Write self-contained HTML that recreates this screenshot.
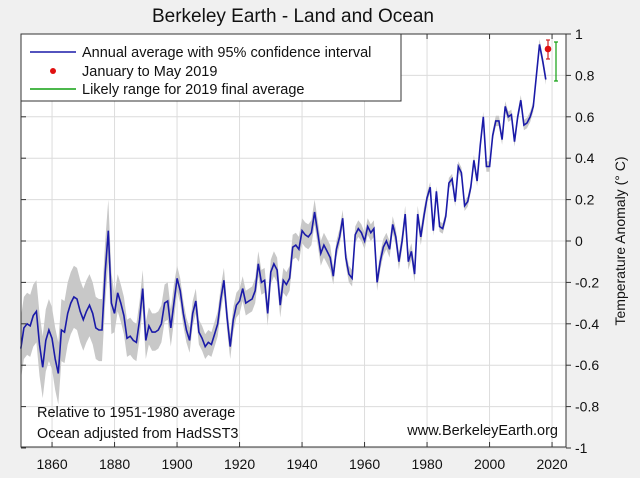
<!DOCTYPE html>
<html><head><meta charset="utf-8"><style>
body{margin:0;background:#f0f0f0;}
svg{display:block;font-family:"Liberation Sans",sans-serif;}
</style></head><body>
<svg id="s" width="640" height="478" xmlns="http://www.w3.org/2000/svg">
<rect width="640" height="478" fill="#f0f0f0"/>
<rect x="21" y="34" width="545" height="413" fill="#fff"/>
<g id="grid" stroke="#dcdcdc" stroke-width="1"></g>
<path id="band" fill="#c8c8c8" stroke="none"/>
<path id="line" fill="none" stroke="#1a1aa8" stroke-width="1.6"/>
<rect x="21" y="34" width="545" height="413" fill="none" stroke="#333" stroke-width="1"/>
<g id="ticks" stroke="#333"></g>
<g id="labels" font-size="14" fill="#111"></g>
<text x="293" y="22" font-size="19" text-anchor="middle" fill="#111">Berkeley Earth - Land and Ocean</text>
<text transform="translate(625,241) rotate(-90)" font-size="14" text-anchor="middle" fill="#111">Temperature Anomaly (° C)</text>
<rect x="21" y="34" width="380" height="67" fill="#fff" stroke="#333"/>
<line x1="30" y1="52" x2="76" y2="52" stroke="#1a1aa8" stroke-width="1.5"/>
<circle cx="53" cy="71" r="3" fill="#e01010"/>
<line x1="30" y1="89" x2="76" y2="89" stroke="#10a010" stroke-width="1.5"/>
<text x="82" y="57" font-size="14.5" fill="#111">Annual average with 95% confidence interval</text>
<text x="82" y="76" font-size="14.5" fill="#111">January to May 2019</text>
<text x="82" y="94" font-size="14.5" fill="#111">Likely range for 2019 final average</text>
<text x="37" y="417" font-size="14.5" fill="#111">Relative to 1951-1980 average</text>
<text x="37" y="438" font-size="14.5" fill="#111">Ocean adjusted from HadSST3</text>
<text x="558" y="435" font-size="14.5" fill="#111" text-anchor="end">www.BerkeleyEarth.org</text>
<g stroke="#d02020" stroke-width="1.2"><line x1="548" y1="40" x2="548" y2="59"/><line x1="546" y1="40" x2="550" y2="40"/><line x1="546" y1="59" x2="550" y2="59"/></g>
<circle cx="548" cy="49" r="3.3" fill="#e01010"/>
<g stroke="#10a010" stroke-width="1.2"><line x1="556" y1="42" x2="556" y2="81"/><line x1="554" y1="42" x2="558" y2="42"/><line x1="554" y1="81" x2="558" y2="81"/></g>
</svg>
<script>
const d=[-0.52,-0.42,-0.40,-0.41,-0.36,-0.34,-0.50,-0.61,-0.48,-0.43,-0.47,-0.57,-0.64,-0.43,-0.44,-0.35,-0.30,-0.27,-0.28,-0.34,-0.38,-0.34,-0.31,-0.35,-0.42,-0.43,-0.43,-0.15,0.05,-0.30,-0.35,-0.25,-0.30,-0.36,-0.47,-0.46,-0.48,-0.49,-0.38,-0.23,-0.48,-0.41,-0.44,-0.44,-0.43,-0.40,-0.30,-0.29,-0.42,-0.30,-0.18,-0.24,-0.35,-0.43,-0.48,-0.35,-0.29,-0.44,-0.47,-0.51,-0.49,-0.50,-0.45,-0.40,-0.28,-0.19,-0.37,-0.51,-0.38,-0.31,-0.29,-0.23,-0.30,-0.29,-0.28,-0.24,-0.11,-0.20,-0.19,-0.35,-0.15,-0.11,-0.14,-0.31,-0.19,-0.21,-0.18,-0.03,-0.02,-0.04,0.05,0.03,0.02,0.04,0.14,0.04,-0.06,-0.02,-0.05,-0.08,-0.17,-0.04,0.02,0.11,-0.08,-0.16,-0.18,0.03,0.06,0.04,0.0,0.07,0.04,0.06,-0.20,-0.10,-0.03,0.0,-0.04,0.08,0.02,-0.10,0.0,0.13,-0.10,-0.05,-0.16,0.13,0.02,0.12,0.21,0.26,0.05,0.24,0.07,0.06,0.12,0.28,0.30,0.19,0.36,0.33,0.17,0.19,0.26,0.39,0.29,0.46,0.60,0.36,0.36,0.51,0.58,0.58,0.49,0.65,0.60,0.61,0.48,0.60,0.68,0.56,0.57,0.60,0.65,0.80,0.95,0.87,0.78];
const X=y=>20.8+3.125*(y-1850),Y=v=>241-207*v;
function u(y){return y<1880?0.15:y<1900?0.09:y<1950?0.06:y<1980?0.04:0.025;}
let up=[],lo=[],ln=[];
d.forEach((v,i)=>{const yr=1850+i;up.push(X(yr).toFixed(1)+","+Y(v+u(yr)).toFixed(1));lo.push(X(yr).toFixed(1)+","+Y(v-u(yr)).toFixed(1));ln.push(X(yr).toFixed(1)+","+Y(v).toFixed(1));});
document.getElementById('band').setAttribute('d',"M"+up.join("L")+"L"+lo.reverse().join("L")+"Z");
document.getElementById('line').setAttribute('d',"M"+ln.join("L"));
const ns="http://www.w3.org/2000/svg";
function el(p,t,a,txt){const e=document.createElementNS(ns,t);for(const k in a)e.setAttribute(k,a[k]);if(txt!=null)e.textContent=txt;document.getElementById(p).appendChild(e);}
for(let yr=1860;yr<=2020;yr+=20){const x=X(yr);el('grid','line',{x1:x,y1:34,x2:x,y2:447});el('ticks','line',{x1:x,y1:447,x2:x,y2:442});el('ticks','line',{x1:x,y1:34,x2:x,y2:39});el('labels','text',{x:x,y:469,'text-anchor':'middle'},yr);}
for(let k=-5;k<=5;k++){const v=k*0.2,y=Y(v);el('grid','line',{x1:21,y1:y,x2:566,y2:y});el('ticks','line',{x1:566,y1:y,x2:571,y2:y});el('ticks','line',{x1:21,y1:y,x2:26,y2:y});let s=(Math.abs(v)<1e-9)?"0":(Math.abs(Math.abs(v)-1)<1e-9?(v<0?"-1":"1"):v.toFixed(1));el('labels','text',{x:575,y:y+5},s);}
</script>
</body></html>
